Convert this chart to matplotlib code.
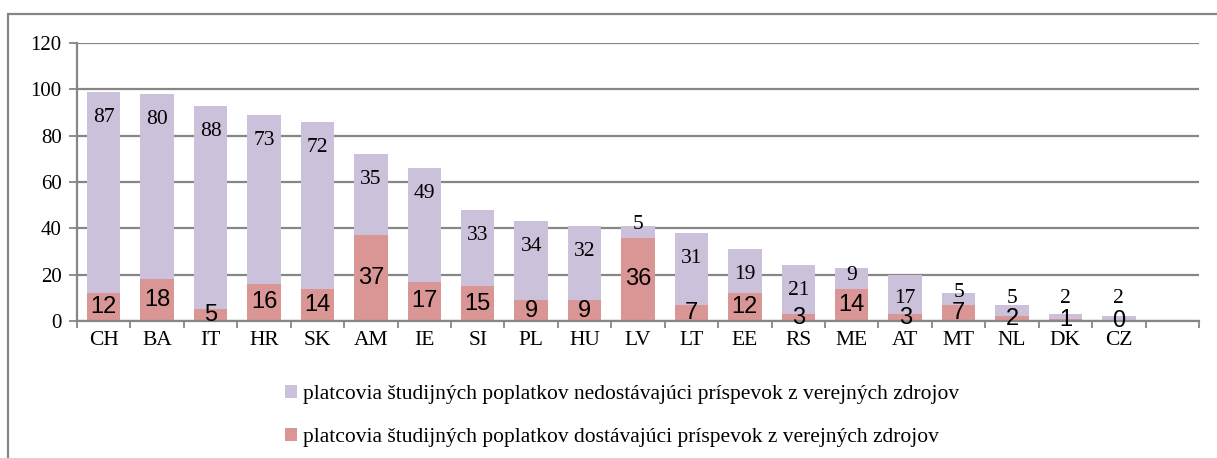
import matplotlib
matplotlib.use("Agg")
import matplotlib.pyplot as plt
from matplotlib.patches import Rectangle
import numpy as np

countries = ["CH", "BA", "IT", "HR", "SK", "AM", "IE", "SI", "PL", "HU",
             "LV", "LT", "EE", "RS", "ME", "AT", "MT", "NL", "DK", "CZ"]
with_support = [12, 18, 5, 16, 14, 37, 17, 15, 9, 9,
                36, 7, 12, 3, 14, 3, 7, 2, 1, 0]
without_support = [87, 80, 88, 73, 72, 35, 49, 33, 34, 32,
                   5, 31, 19, 21, 9, 17, 5, 5, 2, 2]
label_without = "platcovia študijných poplatkov nedostávajúci príspevok z verejných zdrojov"
label_with = "platcovia študijných poplatkov dostávajúci príspevok z verejných zdrojov"
y_ticks = [0, 20, 40, 60, 80, 100, 120]

PURPLE = "#CCC1DA"
RED = "#D99694"
GRID = "#868686"
SERIF = ["Liberation Serif", "DejaVu Serif"]
SANS = ["Liberation Sans", "DejaVu Sans"]

W, H = 1217, 458
fig = plt.figure(figsize=(W / 100, H / 100), dpi=100)
ax = fig.add_axes([77 / W, 1 - 321 / H, (1199 - 77) / W, (321 - 43) / H])

x = np.arange(len(countries))
red = np.array(with_support)
pur = np.array(without_support)
width = 0.625

ax.bar(x, red, width, color=RED, zorder=3, label=label_with)
ax.bar(x, pur, width, bottom=red, color=PURPLE, zorder=3, label=label_without)

ax.set_xlim(-0.5, len(countries) + 0.5)
ax.set_ylim(0, 120)
ax.set_yticks(y_ticks)
ax.yaxis.grid(True, color=GRID, linewidth=1.6, zorder=0)
ax.set_axisbelow(True)

for s in ["top", "right"]:
    ax.spines[s].set_visible(False)
for s in ["left", "bottom"]:
    ax.spines[s].set_color(GRID)
    ax.spines[s].set_linewidth(1.6)
    ax.spines[s].set_zorder(4)

ax.set_xticks(x)
ax.set_xticklabels(countries, fontfamily=SERIF, fontsize=15.5)
ax.set_xticks(np.arange(-0.5, len(countries) + 1, 1), minor=True)
ax.tick_params(axis="x", which="major", length=0, pad=7)
ax.tick_params(axis="x", which="minor", length=5, width=1.3, color=GRID, direction="out")
ax.tick_params(axis="y", length=6, width=1.3, color=GRID, direction="out", pad=5)
for lab in ax.get_yticklabels():
    lab.set_fontfamily(SERIF)
    lab.set_fontsize(15)

for xi, r, p in zip(x, red, pur):
    ax.text(xi, r / 2, str(r), ha="center", va="center",
            fontfamily=SANS, fontsize=17, color="black", zorder=5)
    top = r + p
    yl = max(top - 11, r + 5.5, 9.9)
    ax.text(xi, yl, str(p), ha="center", va="center",
            fontfamily=SERIF, fontsize=15.5, color="black", zorder=5)

# outer chart frame
fig.patches.append(Rectangle((8 / W, -0.5), 2.0, 0.5 + (1 - 14 / H),
                             transform=fig.transFigure, fill=False,
                             edgecolor=GRID, linewidth=1.6))

handles, labels = ax.get_legend_handles_labels()
leg = fig.legend(handles[::-1], labels[::-1], loc="center",
                 bbox_to_anchor=(622 / W, 1 - 416 / H), frameon=False,
                 prop={"family": SERIF, "size": 15.5}, handlelength=0.55,
                 handleheight=0.55, handletextpad=0.25, labelspacing=1.1)

fig.savefig("out.png", dpi=100)
